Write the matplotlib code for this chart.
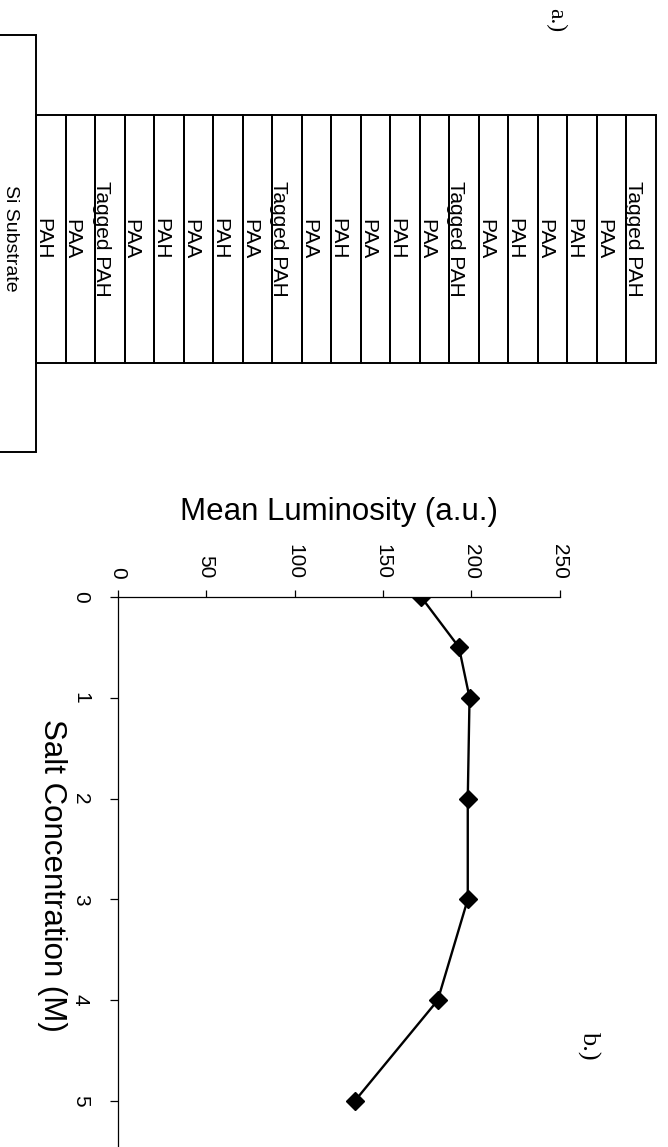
import matplotlib
matplotlib.use("Agg")
import matplotlib.pyplot as plt
from matplotlib.patches import Rectangle

plt.rcParams['font.family'] = ['Liberation Sans', 'DejaVu Sans']

# layer stack, from the substrate outwards
layers = ["PAH", "PAA", "Tagged PAH", "PAA", "PAH", "PAA", "PAH", "PAA",
          "Tagged PAH", "PAA", "PAH", "PAA", "PAH", "PAA", "Tagged PAH",
          "PAA", "PAH", "PAA", "PAH", "PAA", "Tagged PAH"]

# luminosity vs salt concentration
salt = [0, 0.5, 1, 2, 3, 4, 5]
lum = [171.5, 193, 199, 198, 198, 181, 134]
lum_ticks = [0, 50, 100, 150, 200, 250]
salt_ticks = [0, 1, 2, 3, 4, 5]

W, H = 668, 1147
fig = plt.figure(figsize=(W / 100, H / 100), dpi=100)

# --- a.) film schematic: x in layer widths, y in pixels from the top
layer_w = 29.52
x0 = 36
ax_a = fig.add_axes([0, 1 - 480 / H, 1, 480 / H])
ax_a.set_xlim(-x0 / layer_w, (W - x0) / layer_w)
ax_a.set_ylim(480, 0)
ax_a.axis('off')

ax_a.add_patch(Rectangle((-3, 35), 3, 417, fill=False, ec='black', lw=1.4))
ax_a.text(-0.88, 238, "Si Substrate", rotation=-90, ha='center', va='center',
          fontsize=14)
for i, name in enumerate(layers):
    ax_a.add_patch(Rectangle((i, 115), 1, 248, fill=False, ec='black', lw=1.4))
    ax_a.text(i + 0.04, 239, name, rotation=-90, rotation_mode='anchor',
              ha='center', va='baseline', fontsize=15)

fig.text(556 / W, 1 - 20 / H, "a.)", rotation=-90, ha='center', va='center',
         family='Liberation Serif', fontsize=17)

# --- b.) luminosity plot, drawn sideways
px_unit = 100.9
ax_h = 6 * px_unit
ax_b = fig.add_axes([117.7 / W, (H - 596.7 - ax_h) / H, 442 / W, ax_h / H])
ax_b.plot(lum, salt, '-D', color='black', lw=1.7, ms=9.5)
ax_b.set_xlim(0, 250)
ax_b.set_ylim(6, 0)
ax_b.spines['right'].set_visible(False)
ax_b.spines['bottom'].set_visible(False)
for s in ('top', 'left'):
    ax_b.spines[s].set_linewidth(0.9)
ax_b.xaxis.tick_top()
ax_b.xaxis.set_label_position('top')
ax_b.set_xticks(lum_ticks)
ax_b.set_yticks(salt_ticks)
ax_b.tick_params(axis='x', direction='out', length=5, width=0.9, pad=8,
                 labelsize=15, labelrotation=-90)
ax_b.tick_params(axis='y', direction='out', length=6, width=0.9, pad=14,
                 labelsize=15, labelrotation=-90)
for lab in ax_b.get_yticklabels():
    lab.set_va('center')

ax_b.set_xlabel("Mean Luminosity (a.u.)", fontsize=22.5, va='center')
ax_b.xaxis.set_label_coords(0.5, 1 + (596.7 - 512) / ax_h)
ax_b.set_ylabel("Salt Concentration (M)", fontsize=22.5, rotation=-90,
                ha='center', va='center', rotation_mode='default')
ax_b.yaxis.set_label_coords((52 - 117.7) / 442, 1 - (875 - 596.7) / ax_h)

fig.text(589 / W, 1 - 1045 / H, "b.)", rotation=-90, ha='center', va='center',
         family='Liberation Serif', fontsize=19)

fig.savefig("out.png", dpi=100)
